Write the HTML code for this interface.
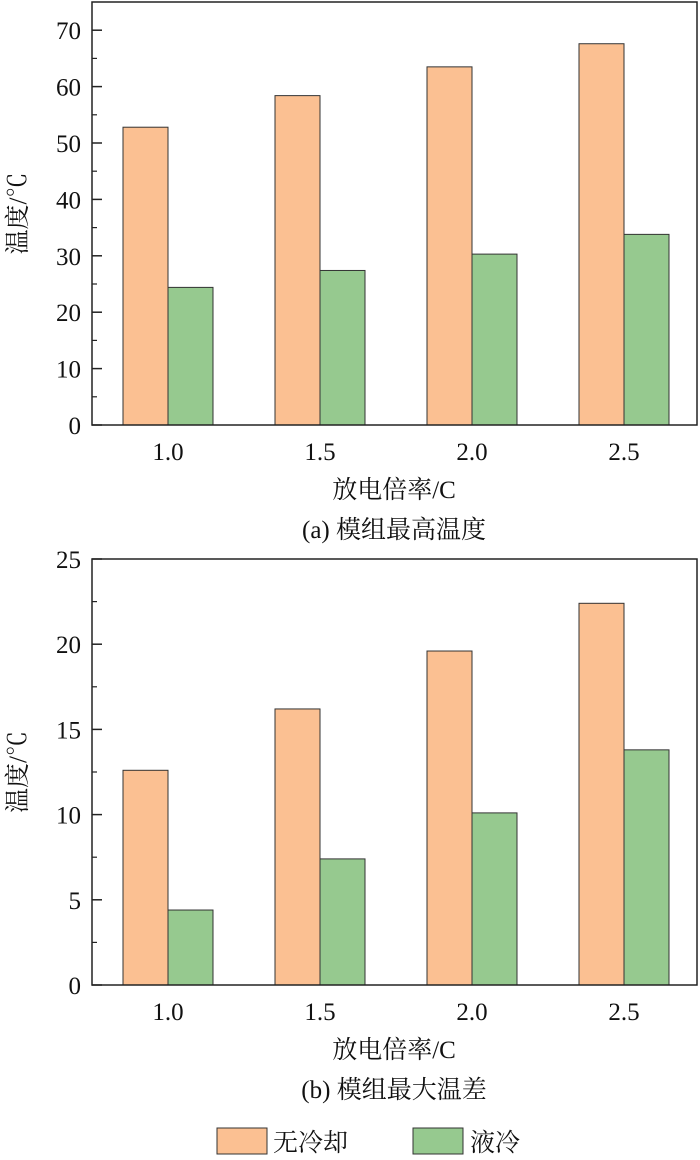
<!DOCTYPE html>
<html><head><meta charset="utf-8"><style>
body{margin:0;background:#fff;}
svg text{font-family:"Liberation Serif","Noto Serif CJK SC",serif;fill:#111;}
</style></head><body>
<svg id="c" width="700" height="1155"></svg>
<script>
const categories=["1.0","1.5","2.0","2.5"];
const maxTempNoCool=[52.8,58.4,63.5,67.6];
const maxTempLiquid=[24.4,27.4,30.3,33.8];
const diffNoCool=[12.6,16.2,19.6,22.4];
const diffLiquid=[4.4,7.4,10.1,13.8];
const ticksA=[0,10,20,30,40,50,60,70];
const ticksB=[0,5,10,15,20,25];
const svg=document.getElementById('c');
const NS='http://www.w3.org/2000/svg';
function mk(t,a,txt){const e=document.createElementNS(NS,t);for(const k in a)e.setAttribute(k,a[k]);if(txt!=null)e.textContent=txt;svg.appendChild(e);return e;}
const C1='#FBC092',C2='#96C98F';
function panel(id,top,bottom,ymax,ticks,minorStep,s1,s2,caption){
  const L=92,R=697;
  const y=v=>bottom-(v/ymax)*(bottom-top);
  const x=i=>168+i*152;
  let e;
  categories.forEach((c,i)=>{
    e=mk('rect',{x:x(i)-45,y:y(s1[i]),width:45,height:bottom-y(s1[i]),fill:C1,stroke:'#333','stroke-width':1});
    
    
    e=mk('rect',{x:x(i),y:y(s2[i]),width:45,height:bottom-y(s2[i]),fill:C2,stroke:'#333','stroke-width':1});
    
    
    e=mk('text',{x:x(i),y:bottom+35,'font-size':25,'text-anchor':'middle'},c);
    
    
  });
  e=mk('rect',{x:L,y:top,width:R-L,height:bottom-top,fill:'none',stroke:'#222','stroke-width':1.5});
  
  
  ticks.forEach(t=>{
    mk('line',{x1:L,x2:L+10,y1:y(t),y2:y(t),stroke:'#222','stroke-width':1.5});
    e=mk('text',{x:L-11,y:y(t)+9,'font-size':25,'text-anchor':'end'},t);
    
    
  });
  for(let v=minorStep;v<ymax;v+=minorStep*2){mk('line',{x1:L,x2:L+5,y1:y(v),y2:y(v),stroke:'#222','stroke-width':1.2});}
  e=mk('text',{x:0,y:0,'font-size':25,'text-anchor':'middle',transform:`translate(26,${(top+bottom)/2}) rotate(-90)`},'温度/℃');
  
  
  e=mk('text',{x:394,y:bottom+73,'font-size':25,'text-anchor':'middle'},'放电倍率/C');
  
  
  e=mk('text',{x:394,y:bottom+113,'font-size':25,'text-anchor':'middle'},caption);
  
  
}
panel('panel-a',2,425,75,ticksA,5,maxTempNoCool,maxTempLiquid,'(a) 模组最高温度');
panel('panel-b',559,985,25,ticksB,2.5,diffNoCool,diffLiquid,'(b) 模组最大温差');
let e;
e=mk('rect',{x:217,y:1128,width:50,height:26,fill:C1,stroke:'#333'});


e=mk('text',{x:273,y:1151,'font-size':25},'无冷却');


e=mk('rect',{x:413,y:1128,width:50,height:26,fill:C2,stroke:'#333'});


e=mk('text',{x:470,y:1151,'font-size':25},'液冷');


</script>
</body></html>
